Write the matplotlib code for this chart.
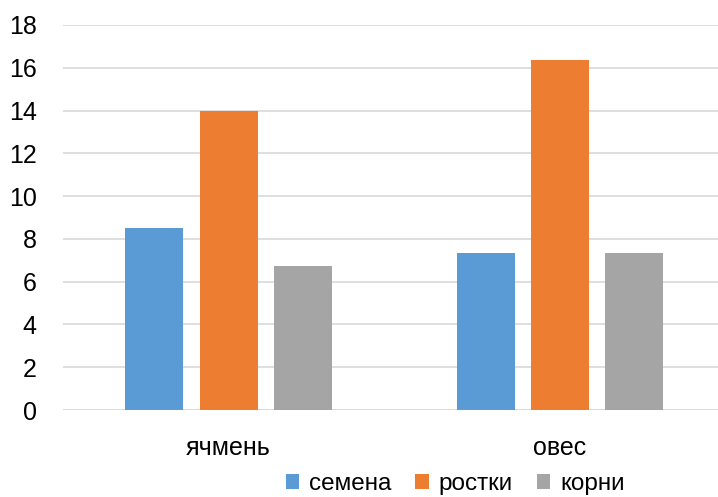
import matplotlib.pyplot as plt
import numpy as np
from matplotlib.patches import Patch

plt.rcParams["font.family"] = ["Liberation Sans", "DejaVu Sans"]

categories = ["ячмень", "овес"]
series_names = ["семена", "ростки", "корни"]
semena = [8.5, 7.35]
rostki = [14.0, 16.35]
korni = [6.75, 7.35]
colors = ["#5B9BD5", "#ED7D31", "#A5A5A5"]

fig = plt.figure(figsize=(7.18, 4.97), dpi=100)
ax = fig.add_axes([63 / 718, 87 / 497, 655 / 718, 385 / 497])

x = np.arange(len(categories))
width = 0.175
step = 0.224
for i, (vals, col) in enumerate(zip([semena, rostki, korni], colors)):
    ax.bar(x + (i - 1) * step, vals, width=width, color=col, zorder=3)

ax.set_xlim(-0.5, 1.477)
ax.set_ylim(0, 18)
ax.set_yticks(np.arange(0, 19, 2))
ax.yaxis.grid(True, color="#d9d9d9", linewidth=1.2, zorder=0)
ax.set_axisbelow(True)
for s in ax.spines.values():
    s.set_visible(False)
ax.axhline(0, color="#d9d9d9", linewidth=1.2, zorder=2)

ax.set_xticks(x)
ax.set_xticklabels(categories)
ax.tick_params(axis="both", length=0, colors="black")
ax.tick_params(axis="y", pad=19, labelsize=18)
ax.tick_params(axis="x", pad=19, labelsize=18)

handles = [Patch(facecolor=c, edgecolor="none") for c in colors]
fig.legend(handles, series_names, loc="center", bbox_to_anchor=(455 / 718, 1 - 484 / 497),
           ncol=3, frameon=False, fontsize=17.5, handlelength=0.55, handleheight=0.55,
           handletextpad=0.4, columnspacing=1.0, borderaxespad=0, borderpad=0)

fig.savefig("out.png", dpi=100)
plt.close(fig)
